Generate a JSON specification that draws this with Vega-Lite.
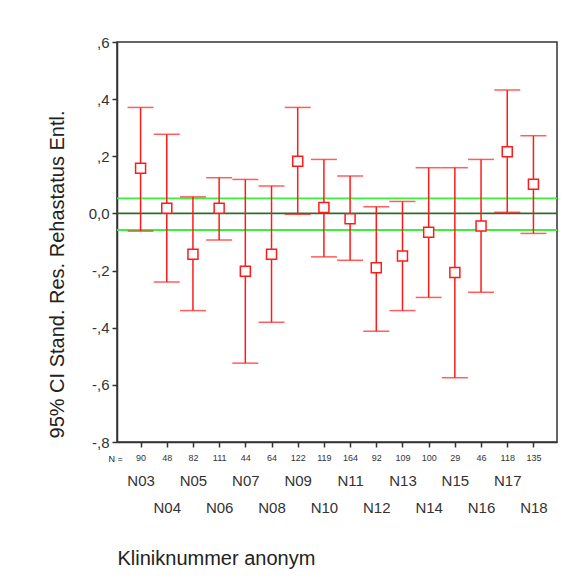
{
  "$schema": "https://vega.github.io/schema/vega-lite/v6.json",
  "width": 440,
  "height": 400,
  "autosize": {"type": "none"},
  "padding": {"left": 117, "top": 42, "right": 14, "bottom": 137},
  "background": "white",
  "config": {
    "font": "Liberation Sans",
    "view": {"stroke": "#333333", "strokeWidth": 1.5},
    "axis": {"grid": false, "domainColor": "#333333", "domainWidth": 1.5, "tickColor": "#333333", "tickWidth": 1.5, "labelColor": "#333333", "titleColor": "#222222", "titleFontWeight": "normal", "labelFont": "Liberation Sans", "titleFont": "Liberation Sans"}
  },
  "datasets": {
    "ci": [
      {"clinic": "N03", "n": 90, "mean": 0.158, "lower": -0.062, "upper": 0.371},
      {"clinic": "N04", "n": 48, "mean": 0.018, "lower": -0.240, "upper": 0.277},
      {"clinic": "N05", "n": 82, "mean": -0.143, "lower": -0.340, "upper": 0.058},
      {"clinic": "N06", "n": 111, "mean": 0.018, "lower": -0.093, "upper": 0.125},
      {"clinic": "N07", "n": 44, "mean": -0.202, "lower": -0.524, "upper": 0.119},
      {"clinic": "N08", "n": 64, "mean": -0.143, "lower": -0.381, "upper": 0.096},
      {"clinic": "N09", "n": 122, "mean": 0.183, "lower": -0.003, "upper": 0.371},
      {"clinic": "N10", "n": 119, "mean": 0.021, "lower": -0.152, "upper": 0.189},
      {"clinic": "N11", "n": 164, "mean": -0.019, "lower": -0.164, "upper": 0.131},
      {"clinic": "N12", "n": 92, "mean": -0.190, "lower": -0.412, "upper": 0.023},
      {"clinic": "N13", "n": 109, "mean": -0.149, "lower": -0.340, "upper": 0.042},
      {"clinic": "N14", "n": 100, "mean": -0.066, "lower": -0.294, "upper": 0.160},
      {"clinic": "N15", "n": 29, "mean": -0.207, "lower": -0.575, "upper": 0.160},
      {"clinic": "N16", "n": 46, "mean": -0.044, "lower": -0.276, "upper": 0.189},
      {"clinic": "N17", "n": 118, "mean": 0.216, "lower": 0.004, "upper": 0.432},
      {"clinic": "N18", "n": 135, "mean": 0.102, "lower": -0.070, "upper": 0.272}
    ],
    "ref": [
      {"value": 0.053, "kind": "band"},
      {"value": -0.058, "kind": "band"},
      {"value": 0, "kind": "zero"}
    ]
  },
  "resolve": {"axis": {"x": "independent", "y": "independent"}},
  "layer": [
    {
      "data": {"name": "ref"},
      "mark": {"type": "rule", "strokeWidth": 1.8},
      "encoding": {
        "y": {"field": "value", "type": "quantitative", "scale": {"domain": [-0.8, 0.6], "nice": false, "zero": false}, "axis": null},
        "color": {"field": "kind", "type": "nominal", "scale": {"domain": ["band", "zero"], "range": ["#3cf03c", "#2a6e2a"]}, "legend": null}
      }
    },
    {
      "data": {"name": "ci"},
      "mark": {"type": "rule", "color": "#ff1a1a", "strokeWidth": 1.5},
      "encoding": {
        "x": {"field": "clinic", "type": "nominal", "scale": {"type": "point", "padding": 0.9},
          "axis": {"orient": "bottom", "tickSize": 5, "labelAngle": 0, "labelFontSize": 9, "labelPadding": 10, "labelBaseline": "middle",
            "labelExpr": "['90','48','82','111','44','64','122','119','164','92','109','100','29','46','118','135'][indexof(['N03','N04','N05','N06','N07','N08','N09','N10','N11','N12','N13','N14','N15','N16','N17','N18'], datum.value)]",
            "title": "N =", "titleFontSize": 9, "titleAngle": 0, "titleAlign": "center", "titleBaseline": "middle", "titleX": -2, "titleY": 16}},
        "y": {"field": "lower", "type": "quantitative", "scale": {"domain": [-0.8, 0.6], "nice": false, "zero": false},
          "axis": {"values": [-0.8, -0.6, -0.4, -0.2, 0, 0.2, 0.4, 0.6], "tickSize": 5, "labelFontSize": 15, "labelPadding": 3,
            "labelExpr": "datum.value == 0 ? '0,0' : replace(replace(replace(format(datum.value, '.1f'), '0.', ','), '\u2212', '-'), '0,', ',')",
            "title": "95% CI Stand. Res. Rehastatus Entl.", "titleFontSize": 20, "titleBaseline": "middle", "titleX": -60, "titleY": 232}},
        "y2": {"field": "upper"}
      }
    },
    {
      "data": {"name": "ci"},
      "mark": {"type": "tick", "color": "#ff1a1a", "thickness": 1.5, "size": 26},
      "encoding": {
        "x": {"field": "clinic", "type": "nominal", "scale": {"type": "point", "padding": 0.9}, "axis": null},
        "y": {"field": "upper", "type": "quantitative", "scale": {"domain": [-0.8, 0.6], "nice": false, "zero": false}, "axis": null}
      }
    },
    {
      "data": {"name": "ci"},
      "mark": {"type": "tick", "color": "#ff1a1a", "thickness": 1.5, "size": 26},
      "encoding": {
        "x": {"field": "clinic", "type": "nominal", "scale": {"type": "point", "padding": 0.9}, "axis": null},
        "y": {"field": "lower", "type": "quantitative", "scale": {"domain": [-0.8, 0.6], "nice": false, "zero": false}, "axis": null}
      }
    },
    {
      "data": {"name": "ci"},
      "mark": {"type": "point", "shape": "square", "filled": true, "fill": "white", "stroke": "#ff1a1a", "strokeWidth": 1.5, "size": 100, "opacity": 1},
      "encoding": {
        "x": {"field": "clinic", "type": "nominal", "scale": {"type": "point", "padding": 0.9},
          "axis": {"orient": "bottom", "ticks": false, "domain": false, "labelAngle": 0, "labelFontSize": 15, "labelPadding": 31, "labelBaseline": "top", "labelLineHeight": 27,
            "labelExpr": "indexof(['N03','N04','N05','N06','N07','N08','N09','N10','N11','N12','N13','N14','N15','N16','N17','N18'], datum.value) % 2 == 0 ? datum.value : ['', datum.value]",
            "title": "Kliniknummer anonym", "titleFontSize": 20, "titleAngle": 0, "titleAlign": "left", "titleBaseline": "middle", "titleX": 0, "titleY": 116}},
        "y": {"field": "mean", "type": "quantitative", "scale": {"domain": [-0.8, 0.6], "nice": false, "zero": false}, "axis": null}
      }
    }
  ]
}
